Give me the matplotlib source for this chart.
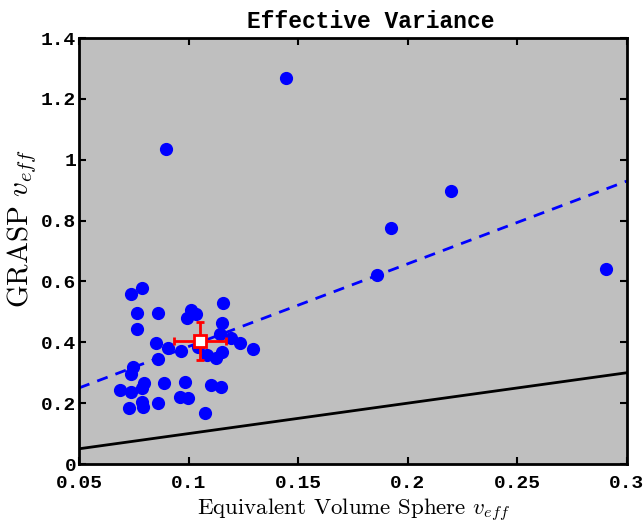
import matplotlib
matplotlib.use("Agg")
import matplotlib.pyplot as plt
import numpy as np

# equivalent volume sphere v_eff vs GRASP v_eff
sphere_veff = [0.1444, 0.0897, 0.2197, 0.1923, 0.1860, 0.2904,
               0.0736, 0.0786, 0.0766, 0.0862, 0.0763, 0.1010, 0.1034, 0.0991,
               0.1158, 0.1151, 0.1143, 0.1192, 0.1234, 0.1295, 0.0851, 0.0907,
               0.0965, 0.1044, 0.1083, 0.1125, 0.1151, 0.0859, 0.0748, 0.0737,
               0.0687, 0.0736, 0.0798, 0.0786, 0.0889, 0.0985, 0.1102, 0.1146,
               0.0961, 0.0996, 0.0730, 0.0786, 0.0791, 0.0862, 0.1076]
grasp_veff = [1.268, 1.035, 0.897, 0.776, 0.621, 0.641,
              0.559, 0.579, 0.497, 0.497, 0.443, 0.506, 0.492, 0.481,
              0.528, 0.462, 0.426, 0.415, 0.399, 0.379, 0.397, 0.380,
              0.371, 0.385, 0.358, 0.347, 0.369, 0.344, 0.320, 0.295,
              0.243, 0.237, 0.265, 0.249, 0.267, 0.271, 0.260, 0.254,
              0.219, 0.217, 0.183, 0.205, 0.186, 0.199, 0.169]

# mean point with spread
mean_x, mean_y = 0.1052, 0.404
err_x = 0.0117
err_y = 0.062

# fitted line
fit_slope = 2.72
fit_intercept = 0.114

plt.rcParams['mathtext.fontset'] = 'cm'

fig = plt.figure(figsize=(6.44, 5.23), dpi=100)
ax = fig.add_axes([0.1227, 0.1128, 0.8509, 0.8145])
ax.set_facecolor('#bfbfbf')

xs = np.array([0.05, 0.3])
ax.plot(xs, xs, color='black', lw=2)
ax.plot(xs, fit_slope * xs + fit_intercept, color='blue', lw=2, ls=(0, (4, 3)))
ax.scatter(sphere_veff, grasp_veff, s=72, color='blue', zorder=3)
ax.errorbar(mean_x, mean_y, xerr=err_x, yerr=err_y, fmt='s', color='red',
            mfc='white', mec='red', mew=2, ms=9, lw=2, capsize=3, capthick=2,
            zorder=4)

ax.set_xlim(0.05, 0.3)
ax.set_ylim(0, 1.4)
ax.set_xticks([0.05, 0.1, 0.15, 0.2, 0.25, 0.3])
ax.set_xticklabels(['0.05', '0.1', '0.15', '0.2', '0.25', '0.3'])
ax.set_yticks([0, 0.2, 0.4, 0.6, 0.8, 1, 1.2, 1.4])
ax.set_yticklabels(['0', '0.2', '0.4', '0.6', '0.8', '1', '1.2', '1.4'])
ax.tick_params(direction='in', length=5, width=1.5, top=True, right=True)
ax.tick_params(axis='x', pad=8)
ax.tick_params(axis='y', pad=2)
for lbl in ax.get_xticklabels() + ax.get_yticklabels():
    lbl.set_fontfamily('Liberation Mono')
    lbl.set_fontweight('bold')
    lbl.set_fontsize(14)
for sp in ax.spines.values():
    sp.set_linewidth(2)

ax.set_title('Effective Variance', fontfamily='Liberation Mono',
             fontweight='bold', fontsize=16.5, x=0.533, pad=7)
ax.set_xlabel('Equivalent Volume Sphere $v_{eff}$', fontfamily='cmr10', fontsize=16.5)
ax.xaxis.set_label_coords(0.5, -0.11)
ax.xaxis.label.set_va('center')
ax.set_ylabel('GRASP $v_{eff}$', fontfamily='cmr10', fontsize=21)
ax.yaxis.set_label_coords(-0.104, 0.552)
ax.yaxis.label.set_va('center')

fig.savefig('out.png', dpi=100)
